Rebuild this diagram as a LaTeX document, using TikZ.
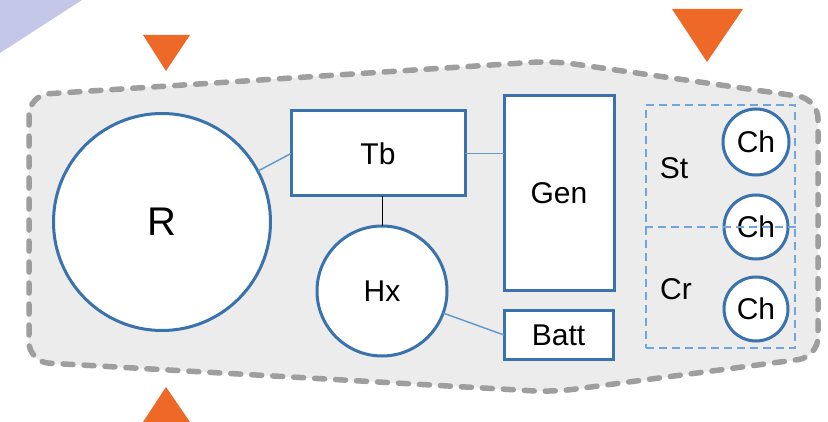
\documentclass[tikz,border=0pt]{standalone}
\usepackage{fontspec}
\setmainfont{Liberation Sans}
\definecolor{blueline}{RGB}{58,114,174}
\definecolor{linkblue}{RGB}{100,156,210}
\definecolor{zoneblue}{RGB}{112,166,220}
\definecolor{shellfill}{RGB}{236,236,236}
\definecolor{shelldash}{RGB}{158,158,158}
\definecolor{flagorange}{RGB}{238,104,40}
\definecolor{lavender}{RGB}{197,199,232}
\tikzset{
  unitbox/.style={draw=blueline, line width=3pt, fill=white, rectangle,
    inner sep=0pt, outer sep=0pt, font=\fontsize{30}{30}\selectfont},
  unitdisc/.style={draw=blueline, line width=3pt, fill=white, circle,
    inner sep=0pt, outer sep=0pt, font=\fontsize{30}{30}\selectfont},
  link/.style={draw=linkblue, line width=1.5pt},
  shaftlink/.style={draw=black, line width=0.9pt},
  zone/.style={draw=zoneblue, line width=1.3pt, dash pattern=on 8pt off 5pt},
  shell/.style={draw=shelldash, fill=shellfill, line width=5.5pt, line cap=round,
    dash pattern=on 10pt off 11pt, rounded corners=20pt},
  flag/.style={fill=flagorange, draw=none},
  tag/.style={font=\fontsize{30}{30}\selectfont, inner sep=0pt}
}
\begin{document}
\begin{tikzpicture}[x=1pt, y=-1pt]
\useasboundingbox (0,0) rectangle (828,422);
\fill[white] (0,0) rectangle (828,422);

% corner wedge
\fill[lavender] (0,0) -- (82,0) -- (0,53) -- cycle;

% orange markers
\fill[flag] (143,35) -- (190,35) -- (166,71) -- cycle;
\fill[flag] (672,9) -- (743,9) -- (707,62) -- cycle;
\fill[flag] (166,387) -- (190,422) -- (143,422) -- cycle;

% outer shell
\path[shell] (29,95) -- (553,61) -- (818,99) -- (818,357) -- (553,392) -- (29,362) -- cycle;

% main components
\node[unitdisc, minimum size=217pt, font=\fontsize{40}{40}\selectfont] (R) at (162,222) {R};
\node[unitbox, minimum width=174pt, minimum height=85pt] (Tb) at (378,153.5) {Tb};
\node[unitbox, minimum width=110pt, minimum height=195pt] (Gen) at (559,193.5) {Gen};
\node[unitdisc, minimum size=130pt] (Hx) at (382,291) {Hx};
\node[unitbox, minimum width=109pt, minimum height=48pt] (Batt) at (558.5,335) {Batt};

% connections
\draw[link] (R) -- (Tb.west);
\draw[link] (Tb.east) -- (Tb.east -| Gen.west);
\draw[shaftlink] (Hx.north) -- (Hx.north |- Tb.south);
\draw[link] (Hx) -- (Batt.west);

% storage / crew zones
\node[zone, rectangle, minimum width=149pt, minimum height=243pt, inner sep=0pt] (Zone) at (720.5,226.5) {};
\node[tag] (St) at (674,168) {St};
\node[tag] (Cr) at (676,289) {Cr};
\node[unitdisc, minimum size=66pt] (Ch1) at (756,142) {Ch};
\node[unitdisc, minimum size=64pt] (Ch2) at (756,227) {Ch};
\node[unitdisc, minimum size=64pt] (Ch3) at (756,309) {Ch};
\coordinate (divL) at (Zone.west |- Ch2);
\draw[zone] (divL) -- (divL -| Zone.east);
\end{tikzpicture}
\end{document}
